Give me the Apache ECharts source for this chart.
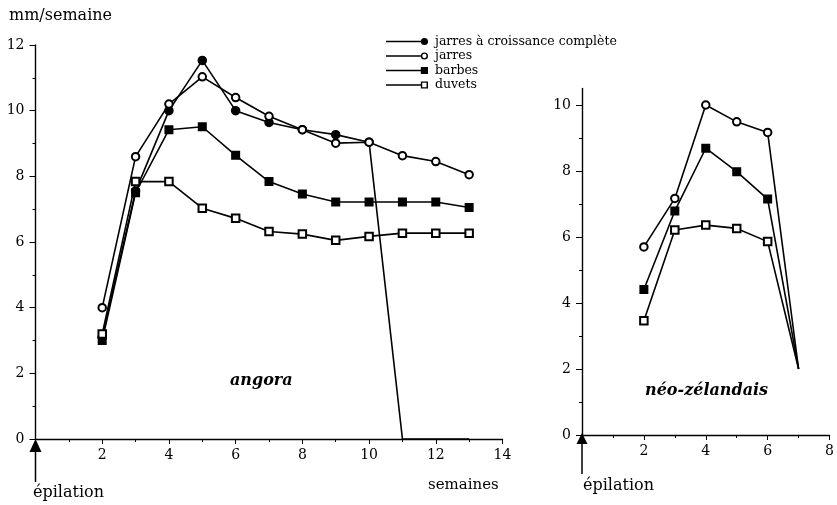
<!DOCTYPE html>
<html><head><meta charset="utf-8">
<script src="https://cdn.jsdelivr.net/npm/echarts@6/dist/echarts.min.js"></script>
<style>html,body{margin:0;padding:0;background:#fff}#c{width:837px;height:505px}</style>
</head><body><div id="c"></div>
<script>
// ---- data ----
const seriesNames = ['jarres à croissance complète', 'jarres', 'barbes', 'duvets'];
const weeksAngora = [2, 3, 4, 5, 6, 7, 8, 9, 10, 11, 12, 13];
const angoraJarresCompletes = [3.1, 7.55, 10.0, 11.53, 10.0, 9.64, 9.42, 9.27, 9.04, 0, 0, 0];
const angoraJarres = [4.0, 8.6, 10.2, 11.03, 10.4, 9.83, 9.42, 9.01, 9.04, 8.63, 8.45, 8.05];
const angoraBarbes = [3.0, 7.5, 9.42, 9.51, 8.64, 7.84, 7.46, 7.22, 7.22, 7.22, 7.22, 7.05];
const angoraDuvets = [3.2, 7.84, 7.84, 7.03, 6.72, 6.32, 6.24, 6.05, 6.17, 6.27, 6.27, 6.27];
const weeksNZ = [2, 3, 4, 5, 6, 7];
const nzJarres = [5.7, 7.17, 10.0, 9.49, 9.17, 2.0];
const nzBarbes = [4.41, 6.79, 8.69, 7.98, 7.15, 2.0];
const nzDuvets = [3.46, 6.21, 6.36, 6.26, 5.86, 2.0];
const rightYTicks = [0, 2, 4, 6, 8, 10];
const rightYMinorTicks = [1, 3, 5, 7, 9];

// ---- helpers ----
const FONT = 'DejaVu Serif';
const BLACK = '#000';
function pts(xs, ys, hideZero, hideLast) {
  return xs.map((x, i) => {
    const item = { value: [x, ys[i]] };
    if ((hideZero && ys[i] === 0) || (hideLast && i === xs.length - 1)) item.symbol = 'none';
    return item;
  });
}
const symbolFor = { 0: 'circle', 1: 'emptyCircle', 2: 'rect', 3: 'emptyRect' };
function line(nameIdx, data, xIdx, yIdx) {
  return {
    type: 'line', name: seriesNames[nameIdx], data: data,
    xAxisIndex: xIdx, yAxisIndex: yIdx,
    symbol: symbolFor[nameIdx], symbolSize: nameIdx === 0 ? 8 : 7.5,
    lineStyle: { color: BLACK, width: 1.6 },
    itemStyle: { color: BLACK, borderColor: BLACK, borderWidth: 1.5 },
    clip: false, animation: false, z: 2 + nameIdx
  };
}
const LINE = 'M0 4.3H35V5.7H0Z ';
const icons = [
  LINE + 'M34 5A3.5 3.5 0 1 1 41 5A3.5 3.5 0 1 1 34 5Z',
  LINE + 'M34 5A3.5 3.5 0 1 1 41 5A3.5 3.5 0 1 1 34 5Z M35.4 5A2.1 2.1 0 1 0 39.6 5A2.1 2.1 0 1 0 35.4 5Z',
  LINE + 'M34 1.5H41V8.5H34Z',
  LINE + 'M34 1.5H41V8.5H34Z M35.4 2.9V7.1H39.6V2.9Z'
];

const labelStyle = { color: BLACK, fontFamily: FONT, fontSize: 14 };
const axisLineStyle = { lineStyle: { color: BLACK, width: 1.4 } };

const option = {
  backgroundColor: '#fff',
  animation: false,
  grid: [
    { left: 35.5, top: 45, width: 467, height: 394 },
    { left: 582, top: 88.5, width: 256, height: 346.5 }
  ],
  xAxis: [
    { type: 'value', gridIndex: 0, min: 0, max: 14, interval: 2,
      axisLine: axisLineStyle, splitLine: { show: false },
      axisTick: { show: true, length: 5, lineStyle: { color: BLACK } },
      minorTick: { show: true, splitNumber: 2, length: 3, lineStyle: { color: BLACK } },
      axisLabel: Object.assign({ margin: 9, formatter: v => v === 0 ? '' : String(v) }, labelStyle) },
    { type: 'value', gridIndex: 1, min: 0, max: 8, interval: 2,
      axisLine: axisLineStyle, splitLine: { show: false },
      axisTick: { show: true, length: 5, lineStyle: { color: BLACK } },
      minorTick: { show: true, splitNumber: 2, length: 3, lineStyle: { color: BLACK } },
      axisLabel: Object.assign({ margin: 9, formatter: v => v === 0 ? '' : String(v) }, labelStyle) }
  ],
  yAxis: [
    { type: 'value', gridIndex: 0, min: 0, max: 12, interval: 2, position: 'left',
      axisLine: axisLineStyle, splitLine: { show: false },
      axisTick: { show: true, length: 6, lineStyle: { color: BLACK } },
      minorTick: { show: true, splitNumber: 2, length: 3, lineStyle: { color: BLACK } },
      axisLabel: Object.assign({ margin: 11 }, labelStyle) },
    { type: 'value', gridIndex: 1, min: 0, max: 10.5, position: 'left', offset: 0,
      axisLine: axisLineStyle, splitLine: { show: false },
      axisTick: { show: true, length: 6, customValues: rightYTicks, lineStyle: { color: BLACK } },
      axisLabel: Object.assign({ margin: 11, customValues: rightYTicks }, labelStyle) },
    { type: 'value', gridIndex: 1, min: 0, max: 10.5, position: 'left', offset: 0,
      axisLine: { show: false }, splitLine: { show: false },
      axisTick: { show: true, length: 3, customValues: rightYMinorTicks, lineStyle: { color: BLACK } },
      axisLabel: { show: false } }
  ],
  legend: {
    orient: 'vertical', left: 381, top: 30, itemWidth: 42, itemHeight: 9, itemGap: 1.5,
    selectedMode: false,
    textStyle: { color: BLACK, fontFamily: FONT, fontSize: 12.5, padding: [0, 0, 0, 2] },
    data: seriesNames.map((n, i) => ({ name: n, icon: 'path://' + icons[i], itemStyle: { color: BLACK, borderWidth: 0 } }))
  },
  series: [
    line(0, pts(weeksAngora, angoraJarresCompletes, true, false), 0, 0),
    line(1, pts(weeksAngora, angoraJarres, false, false), 0, 0),
    line(2, pts(weeksAngora, angoraBarbes, false, false), 0, 0),
    line(3, pts(weeksAngora, angoraDuvets, false, false), 0, 0),
    line(1, pts(weeksNZ, nzJarres, false, true), 1, 1),
    line(2, pts(weeksNZ, nzBarbes, false, true), 1, 1),
    line(3, pts(weeksNZ, nzDuvets, false, true), 1, 1)
  ],
  graphic: [
    { type: 'text', left: 9, top: 8, style: { text: 'mm/semaine', font: '16px "DejaVu Serif"', fill: BLACK } },
    { type: 'text', left: 428, top: 478, style: { text: 'semaines', font: '15px "DejaVu Serif"', fill: BLACK } },
    { type: 'text', left: 230, top: 373, style: { text: 'angora', font: 'italic bold 16px "DejaVu Serif"', fill: BLACK } },
    { type: 'text', left: 645, top: 383, style: { text: 'néo-zélandais', font: 'italic bold 16px "DejaVu Serif"', fill: BLACK } },
    { type: 'polygon', shape: { points: [[35.5, 439], [29.5, 452], [41.5, 452]] }, style: { fill: BLACK } },
    { type: 'line', shape: { x1: 35.5, y1: 450, x2: 35.5, y2: 482 }, style: { stroke: BLACK, lineWidth: 1.5 } },
    { type: 'text', left: 33, top: 485, style: { text: 'épilation', font: '16px "DejaVu Serif"', fill: BLACK } },
    { type: 'polygon', shape: { points: [[582, 433], [576.5, 444], [587.5, 444]] }, style: { fill: BLACK } },
    { type: 'line', shape: { x1: 582, y1: 442, x2: 582, y2: 474 }, style: { stroke: BLACK, lineWidth: 1.5 } },
    { type: 'text', left: 583, top: 478, style: { text: 'épilation', font: '16px "DejaVu Serif"', fill: BLACK } }
  ]
};
const chart = echarts.init(document.getElementById('c'), null, { renderer: 'canvas' });
chart.setOption(option);
</script></body></html>
